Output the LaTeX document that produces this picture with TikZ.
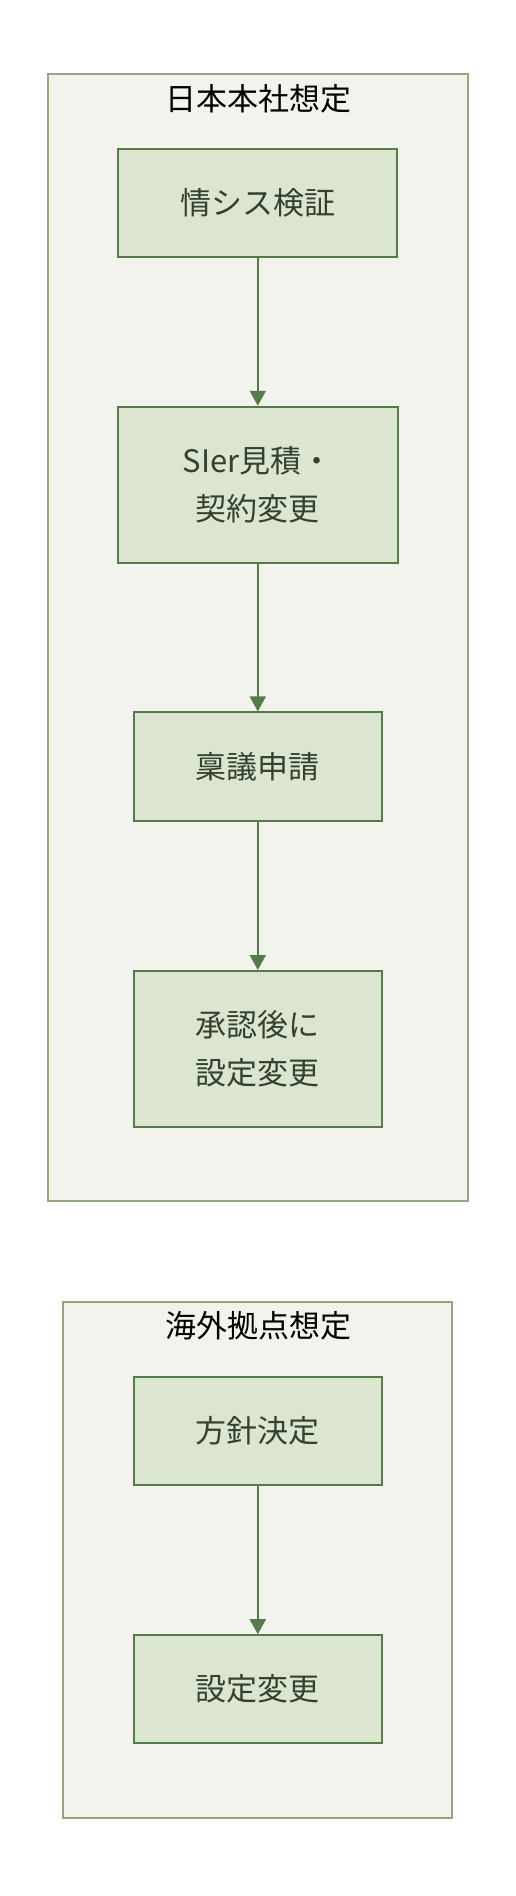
\documentclass[tikz,border=0pt]{standalone}
\usepackage{fontspec}
\setmainfont{Noto Sans CJK JP}
\usetikzlibrary{arrows.meta}
\definecolor{groupfill}{HTML}{F2F3EC}
\definecolor{groupline}{HTML}{94A880}
\definecolor{boxfill}{HTML}{DCE5D0}
\definecolor{boxline}{HTML}{567A4A}
\definecolor{boxtext}{HTML}{33412E}
\tikzset{
  stepbox/.style={draw=boxline, fill=boxfill, line width=2pt, inner sep=0pt,
    text=boxtext, align=center, font=\fontsize{31}{48}\selectfont},
  grouptitle/.style={inner sep=0pt, text=black, font=\fontsize{31}{40}\selectfont},
  flow/.style={draw=boxline, line width=2pt, -{Triangle[length=15pt,width=16pt]}}
}
\begin{document}
\begin{tikzpicture}[x=1pt,y=-1pt]
\useasboundingbox (0,0) rectangle (516,1896);
% groups
\draw[fill=groupfill, draw=groupline, line width=2pt] (47.7,73.5) rectangle (468.3,1201.2);
\draw[fill=groupfill, draw=groupline, line width=2pt] (63.3,1301.9) rectangle (452.3,1817.8);
\node[grouptitle] (hq) at (258,98.7) {日本本社想定};
\node[grouptitle] (os) at (258,1326.2) {海外拠点想定};

\node[stepbox, minimum width=279pt, minimum height=107.5pt] (check) at (257.8,203) {情シス検証};
\node[stepbox, minimum width=280pt, minimum height=156.5pt] (sier) at (257.8,485) {SIer見積・\\契約変更};
\node[stepbox, minimum width=248pt, minimum height=108.6pt] (ringi) at (257.8,766.7) {稟議申請};
\node[stepbox, minimum width=248pt, minimum height=156pt] (apply) at (257.8,1049) {承認後に\\設定変更};

\node[stepbox, minimum width=248pt, minimum height=108.4pt] (policy) at (257.8,1431.1) {方針決定};
\node[stepbox, minimum width=248pt, minimum height=107.6pt] (change) at (257.8,1689) {設定変更};

\draw[flow] (check) -- (sier);
\draw[flow] (sier) -- (ringi);
\draw[flow] (ringi) -- (apply);
\draw[flow] (policy) -- (change);
\end{tikzpicture}
\end{document}
